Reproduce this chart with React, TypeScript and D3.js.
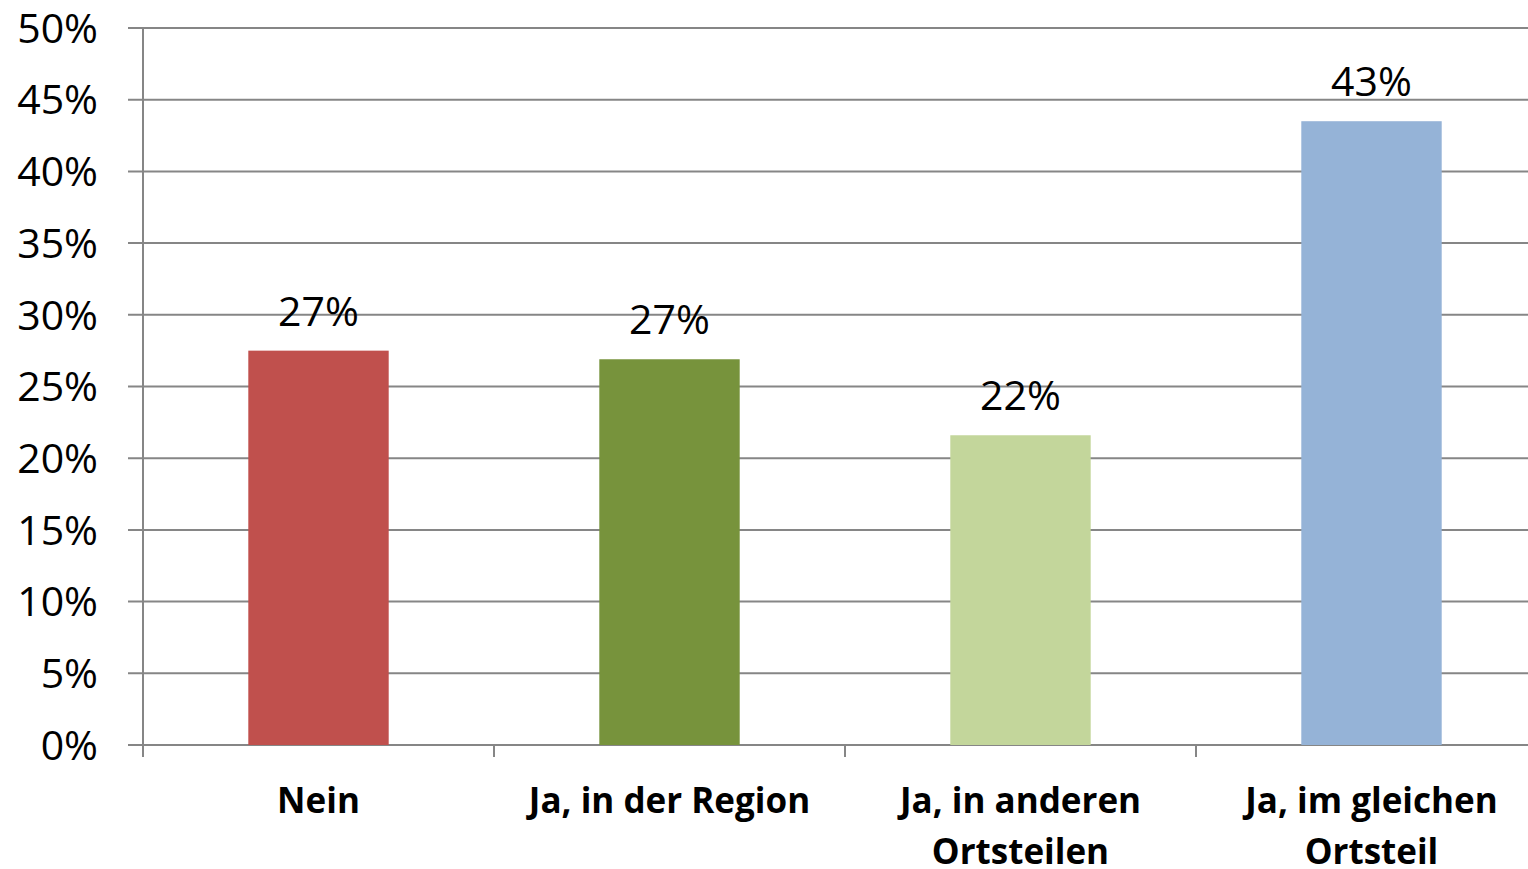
import * as d3 from 'd3';

const categories = ['Nein', 'Ja, in der Region', 'Ja, in anderen Ortsteilen', 'Ja, im gleichen Ortsteil'];
const categoryLines = [['Nein'], ['Ja, in der Region'], ['Ja, in anderen', 'Ortsteilen'], ['Ja, im gleichen', 'Ortsteil']];
const values = [27.5, 26.9, 21.6, 43.5];
const valueLabels = ['27%', '27%', '22%', '43%'];
const barColors = ['#C0504D', '#77933C', '#C3D69B', '#95B3D7'];
const yTicks = [0, 5, 10, 15, 20, 25, 30, 35, 40, 45, 50];

const W = 1528;
const H = 869;
const left = 143;
const right = 1547;
const top = 28;
const bottom = 745;
const font = '"Open Sans", "Liberation Sans", sans-serif';
const gridColor = '#868686';

export default function App() {
  const x = d3.scaleBand().domain(categories).range([left, right]).paddingInner(0.6).paddingOuter(0.3);
  const band = d3.scaleBand().domain(categories).range([left, right]);
  const y = d3.scaleLinear().domain([0, 50]).range([bottom, top]);

  return (
    <svg width={W} height={H} style={{ position: 'absolute', left: 0, top: 0, background: '#fff' }}>
      {yTicks.map(t => (
        <g key={t}>
          <line x1={128} x2={W} y1={y(t)} y2={y(t)} stroke={gridColor} strokeWidth={2} />
          <text x={98} y={y(t)} dy="0.36em" textAnchor="end" fontFamily={font} fontSize={41} fill="#000">
            {t}%
          </text>
        </g>
      ))}
      {categories.map((c, i) => (
        <rect key={c} x={x(c)} y={y(values[i])} width={x.bandwidth()} height={y(0) - y(values[i])} fill={barColors[i]} />
      ))}
      <line x1={left} x2={left} y1={top} y2={757} stroke={gridColor} strokeWidth={2} />
      {categories.map(c => (
        <line key={c} x1={band(c)} x2={band(c)} y1={bottom} y2={757} stroke={gridColor} strokeWidth={2} />
      ))}
      {categories.map((c, i) => (
        <text key={c} x={x(c)! + x.bandwidth() / 2} y={y(values[i]) - 25} textAnchor="middle" fontFamily={font} fontSize={41} fill="#000">
          {valueLabels[i]}
        </text>
      ))}
      {categories.map((c, i) => (
        <text key={c} x={band(c)! + band.bandwidth() / 2} y={813} textAnchor="middle" fontFamily={font} fontWeight="bold" fontSize={35} fill="#000">
          {categoryLines[i].map((l, j) => (
            <tspan key={j} x={band(c)! + band.bandwidth() / 2} dy={j === 0 ? 0 : 51}>{l}</tspan>
          ))}
        </text>
      ))}
    </svg>
  );
}
